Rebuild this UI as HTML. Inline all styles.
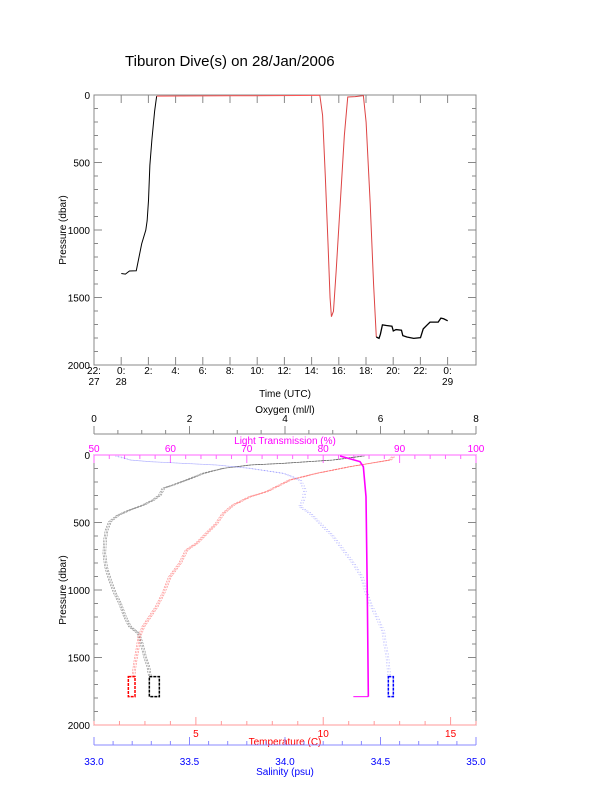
<!DOCTYPE html>
<html><head><meta charset="utf-8"><style>
html,body{margin:0;padding:0;background:#fff}
svg{display:block;font-family:"Liberation Sans",sans-serif}
</style></head><body>
<svg id="s" width="612" height="785" xmlns="http://www.w3.org/2000/svg">
<text x="125" y="66" font-size="15">Tiburon Dive(s) on 28/Jan/2006</text>
<rect x="94" y="95" width="382" height="270" fill="none" stroke="#888" stroke-width="1"/>
<rect x="94" y="455" width="382" height="270" fill="none" stroke="#888" stroke-width="1"/>
<g id="g"></g>
</svg>
<script>
var g=document.getElementById('g');
function el(n,a,t){var e=document.createElementNS('http://www.w3.org/2000/svg',n);for(var k in a)e.setAttribute(k,a[k]);if(t!==undefined)e.textContent=t;g.appendChild(e);return e;}
function line(x1,y1,x2,y2,c){el('line',{x1:x1,y1:y1,x2:x2,y2:y2,stroke:c||'#888','stroke-width':1});}
function txt(x,y,s,c,anc,rot){var a={x:x,y:y,'font-size':10,fill:c||'#000','text-anchor':anc||'middle'};if(rot)a.transform='rotate(-90 '+x+' '+y+')';el('text',a,s);}
[[95,365],[455,725]].forEach(function(b){
 var t=b[0],h=b[1]-b[0];
 for(var p=0;p<=2000;p+=100){var y=t+p/2000*h;var L=(p%500==0)?8:4;line(94,y,94+L,y);line(476,y,476-L,y);
  if(p%500==0)txt(90,y+4,''+p,'#000','end');}
 txt(66,(t+b[1])/2,'Pressure (dbar)','#000','middle',true);
});
var tl=['22:|27','0:|28','2:','4:','6:','8:','10:','12:','14:','16:','18:','20:','22:','0:|29'];
for(var i=0;i<14;i++){var x=94+i*27.2;line(x,365,x,357);line(x,95,x,103);var p=tl[i].split('|');txt(x,374,p[0]);if(p[1])txt(x,385,p[1]);}
txt(285,397,'Time (UTC)');
function tx(h){return 121.3+h*13.6;} function py(p){return 95+p*0.1352;}
var prof=[[0,1320],[0.3,1325],[0.6,1302],[1.1,1300],[1.3,1200],[1.5,1100],[1.8,1000],[1.9,930],[2.0,780],[2.1,520],[2.25,330],[2.45,120],[2.6,8]];
el('polyline',{points:prof.map(function(q){return tx(q[0])+','+py(q[1]);}).join(' '),fill:'none',stroke:'#000','stroke-width':1});
el('polyline',{points:[[2.6,8],[8,6],[14.6,3]].map(function(q){return tx(q[0])+','+py(q[1]);}).join(' '),fill:'none',stroke:'#f55','stroke-width':1});
var d2=[[14.6,3],[14.8,150],[15.0,600],[15.2,1100],[15.35,1500],[15.45,1640],[15.6,1600],[15.8,1300],[16.1,800],[16.4,300],[16.65,15],[17.2,12],[17.8,5],[18.0,200],[18.3,800],[18.55,1400],[18.75,1790]];
el('polyline',{points:d2.map(function(q){return tx(q[0])+','+py(q[1]);}).join(' '),fill:'none',stroke:'#d44','stroke-width':1});
var d3=[[18.75,1790],[18.95,1800],[19.05,1770],[19.2,1700],[19.5,1705],[19.9,1710],[20.0,1745],[20.2,1735],[20.6,1740],[20.7,1780],[21.0,1790],[21.5,1800],[22.0,1795],[22.2,1730],[22.5,1700],[22.7,1680],[23.3,1680],[23.5,1650],[23.7,1655],[24.0,1670]];
el('polyline',{points:d3.map(function(q){return tx(q[0])+','+py(q[1]);}).join(' '),fill:'none',stroke:'#000','stroke-width':1.3});
line(94,434,476,434);
for(var o=0;o<=8.001;o+=0.5){var x=94+o*47.75;line(x,434,x,(o%2==0)?426:430);if(o%2==0)txt(x,422,''+o);}
txt(285,413,'Oxygen (ml/l)');
for(var l=50;l<=100;l+=2){var x=94+(l-50)*7.64;var L=(l%10==0)?8:4;line(x,455,x,455+L,'#f6f');if(l%10==0)txt(x,452,''+l,'#f0f');}
txt(285,444,'Light Transmission (%)','#f0f');
line(94,455,476,455,'#f6f');
line(94,725,476,725,'#f99');
for(var T=1;T<=16;T++){var x=94+(T-1)*25.47;line(x,725,x,(T%5==0)?717:721,'#f99');if(T%5==0)txt(x,737,''+T,'#f00');}
txt(285,745,'Temperature (C)','#f00');
line(94,745,476,745,'#88f');
for(var k=0;k<=20;k++){var x=94+k*19.1;line(x,745,x,(k%5==0)?737:741,'#88f');if(k%5==0)txt(x,765,(33+k*0.1).toFixed(1),'#00f');}
txt(285,775,'Salinity (psu)','#00f');
function Z(a){return a.map(function(q){return [50+q[0]/3,430+q[1]/3];});}
function curve(pts,c,n,op,sw,da){for(var i=0;i<n;i++){var dx=(i-(n-1)/2)*1.4;var a={points:pts.map(function(q){return (q[0]+dx)+','+q[1];}).join(' '),fill:'none',stroke:c,'stroke-width':sw||0.6,opacity:op};if(da)a['stroke-dasharray']=da;el('polyline',a);}}
var blk=Z([[940,78],[850,90],[700,100],[600,105],[520,115],[460,130],[410,150],[370,165],[340,175],[330,195],[310,210],[280,225],[240,240],[205,255],[180,275],[170,300],[165,330],[163,370],[168,410],[180,450],[195,490],[210,520],[225,560],[240,590],[265,610],[275,640],[285,680],[295,710],[300,740]]);
var red=Z([[1030,80],[1020,90],[900,110],[800,130],[720,150],[650,185],[600,200],[550,225],[520,250],[500,280],[470,310],[440,340],[410,360],[390,400],[360,440],[340,490],[320,530],[300,560],[280,590],[268,620],[262,660],[255,700],[250,740]]);
var blu=Z([[200,78],[240,90],[300,95],[400,100],[500,105],[600,115],[700,130],[750,150],[765,180],[760,210],[750,230],[780,250],[810,280],[850,320],[880,360],[910,400],[935,440],[950,490],[965,530],[985,570],[1000,605],[1005,640],[1012,680],[1018,740]]);
var mag=Z([[870,78],[930,95],[940,110],[948,200],[952,500],[955,800]]);
curve(blk,'#333',3,0.6,0.6,'2,1');
curve(red,'#f22',3,0.55,0.6,'2,1');
curve(blu,'#44f',3,0.5,0.6,'1,2');
curve(mag,'#f0f',1,1,1.6);
function box(x1,x2,c){el('rect',{x:50+x1/3,y:430+740/3,width:(x2-x1)/3,height:60/3,fill:'none',stroke:c,'stroke-width':1.5,'stroke-dasharray':'3,1'});}
box(298,328,'#000');box(235,255,'#f00');box(1015,1030,'#00f');
el('line',{x1:50+910/3,y1:430+800/3,x2:50+955/3,y2:430+800/3,stroke:'#f0f','stroke-width':1});
</script>
</body></html>
